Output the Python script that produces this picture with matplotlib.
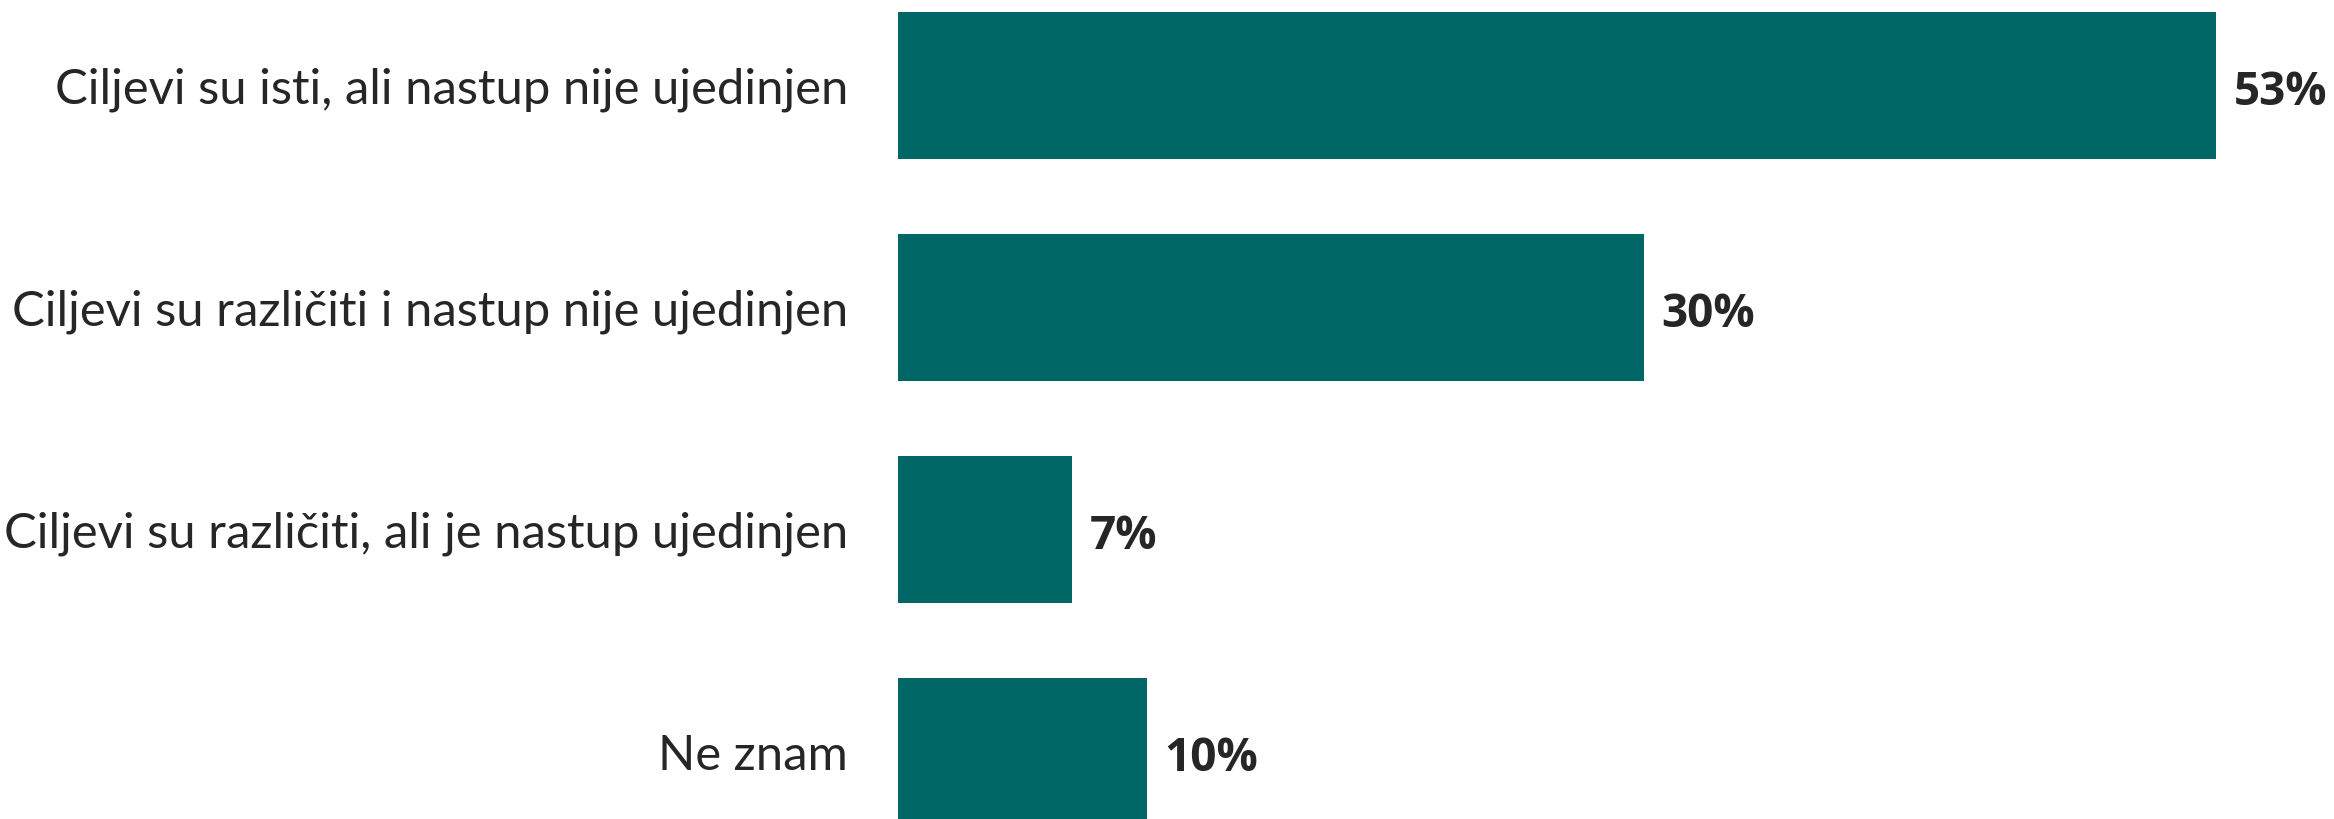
import matplotlib.pyplot as plt

categories = [
    "Ciljevi su isti, ali nastup nije ujedinjen",
    "Ciljevi su različiti i nastup nije ujedinjen",
    "Ciljevi su različiti, ali je nastup ujedinjen",
    "Ne znam",
]
values = [53, 30, 7, 10]

bar_color = "#006766"
text_color = "#262626"

fig = plt.figure(figsize=(23.34, 8.19), dpi=100)
ax = fig.add_axes([898 / 2334, 0, 1 - 898 / 2334, 1])

pos = list(range(len(categories)))
ax.barh(pos, values, height=0.663, color=bar_color)

ax.set_xlim(0, 57.74)
ax.set_ylim(3.3036, -0.3856)
ax.set_yticks(pos)
ax.set_yticklabels(categories, fontsize=35.3, color=text_color,
                   family="Lato")
ax.tick_params(axis="y", length=0, pad=36)
ax.set_xticks([])
for s in ax.spines.values():
    s.set_visible(False)

# value labels just past the end of each bar
for p, v in zip(pos, values):
    ax.text(v + 0.7, p + 0.03, f"{v}%", va="center", ha="left", fontsize=33,
            fontweight="bold", color=text_color, family="Open Sans")

fig.savefig("out.png", dpi=100)
